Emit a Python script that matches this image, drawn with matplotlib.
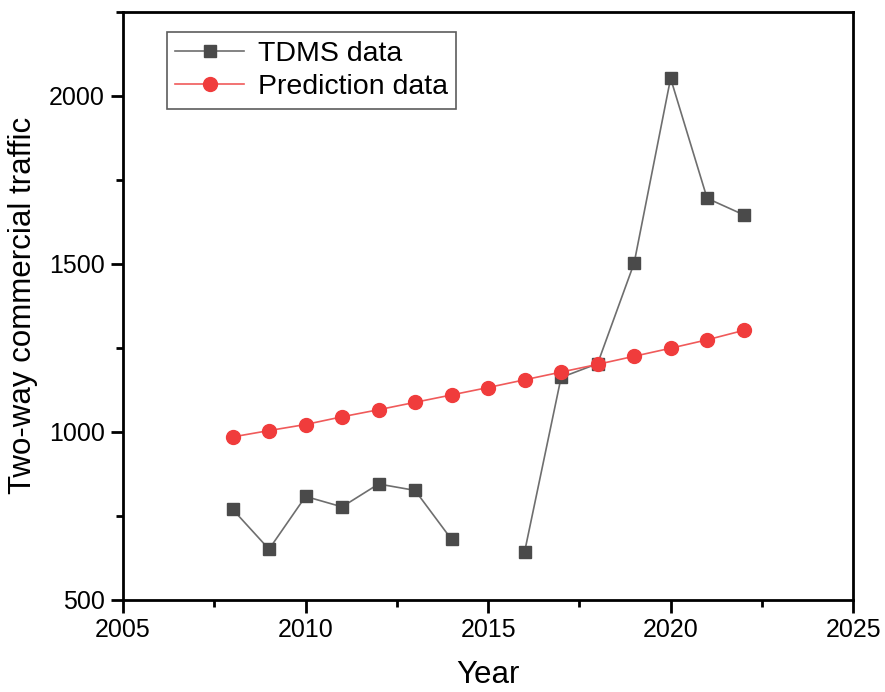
import numpy as np
import matplotlib

matplotlib.use("Agg")
import matplotlib.pyplot as plt
from matplotlib.ticker import MultipleLocator

plt.rcParams["font.family"] = ["Liberation Sans", "DejaVu Sans"]

# 数据（从图上读取；2015 年 TDMS 缺测）
years = [2008, 2009, 2010, 2011, 2012, 2013, 2014, 2015,
         2016, 2017, 2018, 2019, 2020, 2021, 2022]
tdms = [770, 651, 808, 777, 845, 826, 680, np.nan,
        643, 1162, 1203, 1502, 2052, 1695, 1646]
prediction = [985, 1004, 1022, 1045, 1066, 1088, 1110, 1132,
              1155, 1178, 1201, 1225, 1249, 1274, 1302]

fig = plt.figure(figsize=(8.85, 6.92), dpi=100, facecolor="white")
ax = fig.add_axes([0.139, 0.133, 0.825, 0.850])

ax.plot(years, tdms, color="#6e6e6e", lw=1.2, marker="s", ms=9,
        mfc="#4a4a4a", mec="#4a4a4a", label="TDMS data", zorder=3)
ax.plot(years, prediction, color="#f05a5a", lw=1.2, marker="o", ms=10,
        mfc="#f03c3c", mec="#f03c3c", label="Prediction data", zorder=4)

ax.set_xlim(2005, 2025)
ax.set_ylim(500, 2250)
ax.xaxis.set_major_locator(MultipleLocator(5))
ax.xaxis.set_minor_locator(MultipleLocator(2.5))
ax.yaxis.set_major_locator(MultipleLocator(500))
ax.yaxis.set_minor_locator(MultipleLocator(250))

for spine in ax.spines.values():
    spine.set_linewidth(2)
ax.tick_params(which="both", direction="out", width=2, top=False, right=False)
ax.tick_params(which="major", length=9, labelsize=18, pad=4)
ax.tick_params(which="minor", length=5)

ax.set_xlabel("Year", fontsize=22.5, labelpad=13)
ax.set_ylabel("Two-way commercial traffic", fontsize=22.5, labelpad=8)

leg = ax.legend(loc="upper left", bbox_to_anchor=(0.060, 0.965), fontsize=20.5,
                frameon=True, fancybox=False, edgecolor="#333333",
                handlelength=2.4, handletextpad=0.5, borderpad=0.3,
                labelspacing=0.25, borderaxespad=0)
leg.get_frame().set_linewidth(1.2)

fig.savefig("out.png", dpi=100, facecolor="white")
